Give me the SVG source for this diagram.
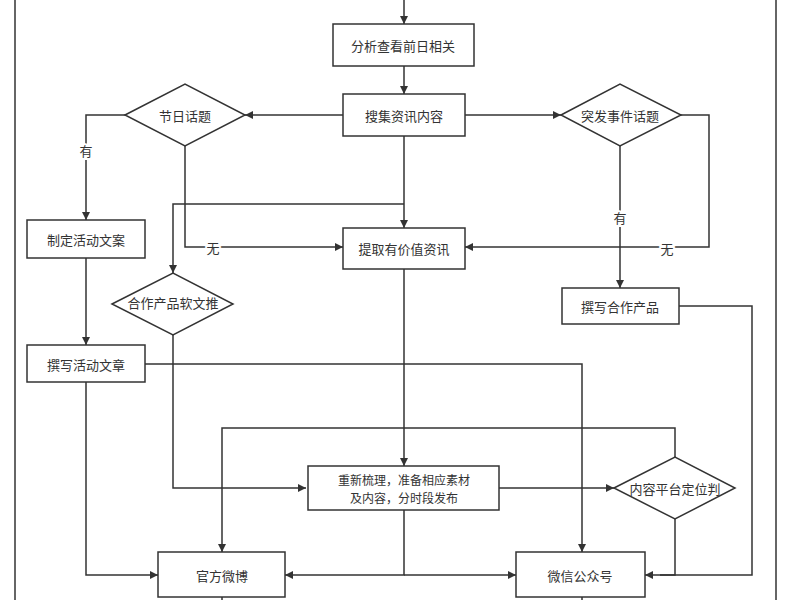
<svg xmlns="http://www.w3.org/2000/svg" width="800" height="600" viewBox="0 0 800 600">
<style>
.n{fill:#fff;stroke:#333;stroke-width:1.5}
.t{font-family:"Noto Sans CJK SC","Liberation Sans",sans-serif;font-size:13px;fill:#333;text-anchor:middle;dominant-baseline:central}
.c{fill:none;stroke:#333;stroke-width:1.5}
</style>
<defs><marker id="a" viewBox="0 0 10 10" refX="10" refY="5" markerWidth="8" markerHeight="8" markerUnits="userSpaceOnUse" orient="auto"><path d="M0,0L10,5L0,10z" fill="#333"/></marker></defs>
<rect width="800" height="600" fill="#fff"/>
<g id="frame"><line x1="15" y1="0" x2="15" y2="600" class="c"/><line x1="776" y1="0" x2="776" y2="600" class="c"/></g>
<g id="connectors">
<path class="c" d="M404,0V24" marker-end="url(#a)"/>
<path class="c" d="M404,66V94" marker-end="url(#a)"/>
<path class="c" d="M343,115H245" marker-end="url(#a)"/>
<path class="c" d="M465,115H561" marker-end="url(#a)"/>
<path class="c" d="M125,115H86V220" marker-end="url(#a)"/>
<path class="c" d="M185,146V247H343" marker-end="url(#a)"/>
<path class="c" d="M404,136V228" marker-end="url(#a)"/>
<path class="c" d="M404,204H173V273" marker-end="url(#a)"/>
<path class="c" d="M620,146V288" marker-end="url(#a)"/>
<path class="c" d="M681,115H709V247H465" marker-end="url(#a)"/>
<path class="c" d="M86,258V345" marker-end="url(#a)"/>
<path class="c" d="M173,335V488H306" marker-end="url(#a)"/>
<path class="c" d="M145,364H582V552" marker-end="url(#a)"/>
<path class="c" d="M86,382V575H158" marker-end="url(#a)"/>
<path class="c" d="M404,269V466" marker-end="url(#a)"/>
<path class="c" d="M499,488H614" marker-end="url(#a)"/>
<path class="c" d="M675,457V428H222V552" marker-end="url(#a)"/>
<path class="c" d="M675,519V575H645" marker-end="url(#a)"/>
<path class="c" d="M679,306H752V575H660"/>
<path class="c" d="M404,510V575H285" marker-end="url(#a)"/>
<path class="c" d="M404,575H516" marker-end="url(#a)"/>
<path class="c" d="M222,597V600M582,597V600"/>
<text class="t" x="86" y="150" style="fill:#fff;stroke:#fff;stroke-width:4">有</text><text class="t" x="86" y="150">有</text>
<text class="t" x="213" y="247" style="fill:#fff;stroke:#fff;stroke-width:4">无</text><text class="t" x="213" y="247">无</text>
<text class="t" x="620" y="217" style="fill:#fff;stroke:#fff;stroke-width:4">有</text><text class="t" x="620" y="217">有</text>
<text class="t" x="667" y="248" style="fill:#fff;stroke:#fff;stroke-width:4">无</text><text class="t" x="667" y="248">无</text>
</g>
<g id="n1"><rect class="n" x="333" y="24" width="141" height="42"/><text class="t" x="403" y="45">分析查看前日相关</text></g>
<g id="n2"><rect class="n" x="343" y="94" width="122" height="42"/><text class="t" x="404" y="115">搜集资讯内容</text></g>
<g id="d1"><polygon class="n" points="125,115 185,84 245,115 185,146"/><text class="t" x="185" y="115">节日话题</text></g>
<g id="d2"><polygon class="n" points="561,115 620,84 681,115 620,146"/><text class="t" x="620" y="115">突发事件话题</text></g>
<g id="n3"><rect class="n" x="27" y="220" width="118" height="38"/><text class="t" x="86" y="239">制定活动文案</text></g>
<g id="n4"><rect class="n" x="343" y="228" width="122" height="41"/><text class="t" x="404" y="248">提取有价值资讯</text></g>
<g id="n5"><rect class="n" x="562" y="288" width="117" height="36"/><text class="t" x="620" y="306">撰写合作产品</text></g>
<g id="d3"><polygon class="n" points="112,304 173,273 233,304 173,335"/><text class="t" x="173" y="302">合作产品软文推</text></g>
<g id="n6"><rect class="n" x="27" y="345" width="118" height="37"/><text class="t" x="86" y="364">撰写活动文章</text></g>
<g id="n7"><rect class="n" x="308" y="466" width="191" height="44"/><text class="t" x="404" y="479" style="font-size:12px">重新梳理，准备相应素材</text><text class="t" x="404" y="497" style="font-size:12px">及内容，分时段发布</text></g>
<g id="d4"><polygon class="n" points="614,488 675,457 735,488 675,519"/><text class="t" x="675" y="488">内容平台定位判</text></g>
<g id="n8"><rect class="n" x="158" y="552" width="127" height="45"/><text class="t" x="222" y="575">官方微博</text></g>
<g id="n9"><rect class="n" x="516" y="552" width="129" height="45"/><text class="t" x="580" y="575">微信公众号</text></g>
</svg>
